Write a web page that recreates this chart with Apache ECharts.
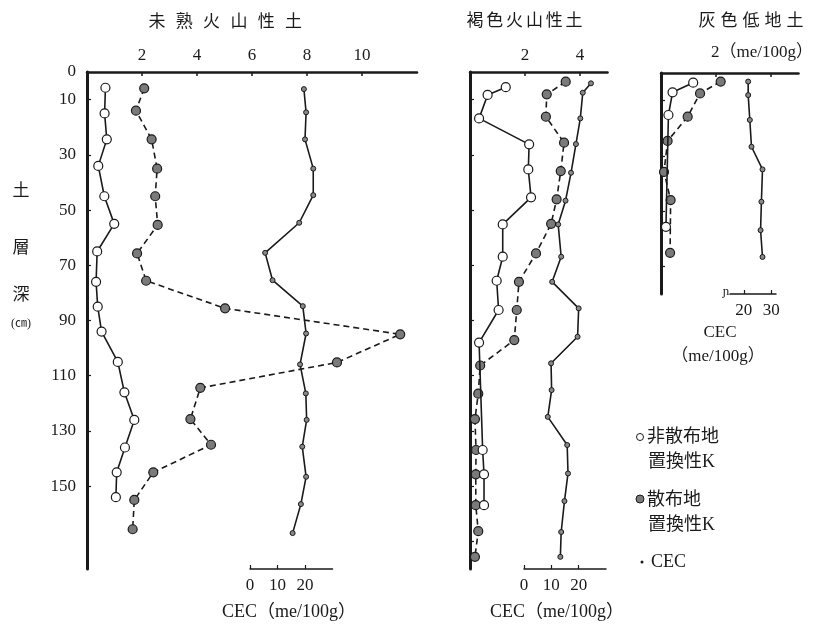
<!DOCTYPE html>
<html>
<head>
<meta charset="utf-8">
<script src="https://cdn.jsdelivr.net/npm/echarts@6/dist/echarts.min.js"></script>
<style>
html, body { margin: 0; padding: 0; background: #fff; }
#main { width: 830px; height: 624px; }
</style>
</head>
<body>
<div id="main"></div>
<script>
// depth (cm) and values
var p1OpenDepth = [5.7, 15, 24.4, 34, 45, 55, 65, 76, 85, 94, 105, 116, 126, 136, 145, 154];
var p1OpenK = [0.67, 0.64, 0.72, 0.41, 0.63, 0.99, 0.37, 0.33, 0.39, 0.53, 1.12, 1.36, 1.72, 1.38, 1.08, 1.05];
var p1DispDepth = [5.9, 14, 24.4, 35, 45, 55.4, 65.7, 75.6, 85.6, 95, 105.2, 114.4, 125.7, 135, 145, 155, 165.6];
var p1DispK = [2.08, 1.78, 2.35, 2.55, 2.48, 2.57, 1.82, 2.15, 5.02, 11.39, 9.09, 4.12, 3.76, 4.51, 2.41, 1.72, 1.66];
var p1CecDepth = [6.2, 14.6, 24.4, 35, 44.6, 54.6, 65.5, 75.4, 84.8, 94.7, 105.9, 116.4, 126, 135.7, 146.6, 156.5, 167];
var p1Cec = [19.6, 20.4, 20.0, 23.0, 23.0, 17.9, 5.5, 8.2, 19.2, 20.4, 18.2, 20.3, 20.6, 19.0, 20.4, 18.5, 15.5];

var p2OpenDepth = [5.5, 8.3, 16.8, 26.2, 35.3, 45.4, 55.2, 66.9, 75.6, 86.2, 98, 136.9, 145.7, 156.9];
var p2OpenK = [1.30, 0.64, 0.33, 2.15, 2.12, 2.22, 1.19, 1.19, 0.97, 1.04, 0.33, 0.46, 0.51, 0.51];
var p2DispDepth = [3.5, 8.1, 16.2, 25.6, 35.9, 46.1, 55, 65.7, 76, 86.2, 97.1, 106.3, 116.5, 125.7, 136.9, 145.7, 156.9, 166.3, 175.6];
var p2DispK = [3.48, 2.79, 2.76, 3.42, 3.30, 3.15, 2.95, 2.40, 1.78, 1.70, 1.61, 0.37, 0.30, 0.18, 0.22, 0.21, 0.21, 0.30, 0.18];
var p2CecDepth = [4.1, 7.5, 16.8, 26.1, 36.5, 46.6, 55.2, 66.9, 76, 85.6, 95.9, 105.5, 115.2, 124.9, 135.1, 145.4, 155.4, 166.6, 175.6];
var p2Cec = [24.5, 21.5, 20.6, 19.0, 17.2, 15.2, 12.5, 13.6, 10.3, 20.0, 19.6, 9.9, 10.1, 8.7, 15.8, 16.1, 14.8, 13.6, 13.3];

var p3OpenDepth = [3.5, 7, 15.2, 55.7];
var p3OpenK = [1.17, 0.42, 0.27, 0.18];
var p3DispDepth = [3.1, 7.4, 15.8, 24.6, 35.8, 46, 65.1];
var p3DispK = [2.17, 1.42, 0.97, 0.24, 0.11, 0.35, 0.33];
var p3CecDepth = [3.1, 8, 17, 26.7, 34.9, 46.6, 56.9, 66.6];
var p3Cec = [21.6, 21.6, 22.2, 22.8, 26.8, 26.4, 26.1, 26.8];

var depthLabels = [0, 10, 30, 50, 70, 90, 110, 130, 150];
var p1KTicks = [2, 4, 6, 8, 10];
var p2KTicks = [2, 4];
var cecTicks = [0, 10, 20];
var p3CecTicks = [20, 30];

var FONT = '"Liberation Serif", "Noto Sans CJK JP", serif';
var INK = '#1a1a1a';

function pairs(vals, depths) {
	return vals.map(function (v, i) { return [v, depths[i]]; });
}

function txt(s, x, y, size, align) {
	return {
		type: 'text', x: x, y: y, silent: true,
		style: { text: s, fontSize: size, fontFamily: FONT, fill: INK, align: align || 'center', verticalAlign: 'middle' }
	};
}

function spaced(s, x0, step, y, size) {
	return s.split('').map(function (c, i) { return txt(c, x0 + i * step, y, size); });
}

function kAxis(grid, max, ticks, showLabel) {
	return {
		type: 'value', gridIndex: grid, position: 'top', min: 0, max: max,
		axisLine: { show: true, onZero: false, lineStyle: { color: INK, width: 2.5 } },
		axisTick: { show: true, inside: true, length: 4, customValues: ticks, lineStyle: { color: INK, width: 1.5 } },
		axisLabel: { show: showLabel, customValues: ticks, margin: 8, fontSize: 17, fontFamily: FONT, color: INK },
		splitLine: { show: false }
	};
}

function cecAxis(grid, min, max, ticks) {
	return {
		type: 'value', gridIndex: grid, position: 'bottom', min: min, max: max,
		axisLine: { show: true, onZero: false, lineStyle: { color: INK, width: 1.5 } },
		axisTick: { show: true, inside: true, length: 4, customValues: ticks, lineStyle: { color: INK, width: 1.2 } },
		axisLabel: { customValues: ticks, margin: 8, fontSize: 17, fontFamily: FONT, color: INK },
		splitLine: { show: false }
	};
}

function depthAxis(grid, max, show, labels, ticks) {
	return {
		type: 'value', gridIndex: grid, inverse: true, min: 0, max: max, show: show,
		axisLine: { show: true, onZero: false, lineStyle: { color: INK, width: 3 } },
		axisTick: { show: true, inside: true, length: 4, customValues: ticks, lineStyle: { color: INK, width: 1.2 } },
		axisLabel: { show: !!labels, customValues: labels || [], margin: 11, fontSize: 17, fontFamily: FONT, color: INK },
		splitLine: { show: false }
	};
}

function openSeries(x, y, vals, depths) {
	return {
		type: 'line', xAxisIndex: x, yAxisIndex: y, data: pairs(vals, depths),
		symbol: 'circle', symbolSize: 9, z: 4,
		itemStyle: { color: '#fff', borderColor: INK, borderWidth: 1.2 },
		lineStyle: { color: INK, width: 1.6 }
	};
}

function dispSeries(x, y, vals, depths) {
	return {
		type: 'line', xAxisIndex: x, yAxisIndex: y, data: pairs(vals, depths),
		symbol: 'circle', symbolSize: 9, z: 3,
		itemStyle: { color: '#7a7a7a', borderColor: INK, borderWidth: 1.2 },
		lineStyle: { color: INK, width: 1.6, type: [6, 4] }
	};
}

function cecSeries(x, y, vals, depths) {
	return {
		type: 'line', xAxisIndex: x, yAxisIndex: y, data: pairs(vals, depths),
		symbol: 'circle', symbolSize: 5, z: 3,
		itemStyle: { color: '#888', borderColor: INK, borderWidth: 1 },
		lineStyle: { color: INK, width: 1.6 }
	};
}

var chart = echarts.init(document.getElementById('main'), null, { renderer: 'canvas' });

var graphics = []
	.concat(spaced('未熟火山性土', 157, 27.3, 23, 17))
	.concat(spaced('褐色火山性土', 475, 19.8, 22, 17))
	.concat(spaced('灰色低地土', 707, 22, 22, 17))
	.concat([
		txt('土', 21, 192, 17), txt('層', 21, 249, 17), txt('深', 21, 296, 17), txt('(㎝)', 21, 324, 12),
		txt('CEC（me/100g）', 289, 612, 18), txt('CEC（me/100g）', 557, 612, 18),
		txt('2（me/100g）', 711, 53, 17, 'left'),
		txt('CEC', 720, 333, 17), txt('（me/100g）', 718, 357, 17),
		txt('ɲ', 726, 292, 13),
		{ type: 'circle', shape: { cx: 640, cy: 437, r: 3.5 }, style: { fill: '#fff', stroke: INK, lineWidth: 1 } },
		txt('非散布地', 647, 437, 18, 'left'), txt('置換性K', 648, 462, 18, 'left'),
		{ type: 'circle', shape: { cx: 640, cy: 499, r: 4 }, style: { fill: '#7a7a7a', stroke: INK, lineWidth: 1 } },
		txt('散布地', 647, 500, 18, 'left'), txt('置換性K', 648, 525, 18, 'left'),
		{ type: 'circle', shape: { cx: 642, cy: 562, r: 1.5 }, style: { fill: INK } },
		txt('CEC', 651, 562, 18, 'left')
	]);

chart.setOption({
	animation: false,
	backgroundColor: '#fff',
	grid: [
		{ left: 87, top: 72, width: 330, height: 497 },
		{ left: 250, top: 72, width: 82.5, height: 497 },
		{ left: 470, top: 72, width: 137.5, height: 497 },
		{ left: 524, top: 72, width: 82, height: 497 },
		{ left: 661, top: 73, width: 137.5, height: 221 },
		{ left: 730, top: 73, width: 46, height: 221 }
	],
	xAxis: [
		kAxis(0, 12, p1KTicks, true),
		cecAxis(1, 0, 30, cecTicks),
		kAxis(2, 5, p2KTicks, true),
		cecAxis(3, 0, 30, cecTicks),
		kAxis(4, 5, p2KTicks, false),
		cecAxis(5, 15, 31.7, p3CecTicks)
	],
	yAxis: [
		depthAxis(0, 180, true, depthLabels, [10, 30, 50, 70, 90, 110, 130, 150]),
		depthAxis(1, 180, false),
		depthAxis(2, 180, true, null, [10, 30, 50, 70, 90, 110, 130, 150, 170]),
		depthAxis(3, 180, false),
		depthAxis(4, 80, true, null, [10, 30, 50, 70]),
		depthAxis(5, 80, false)
	],
	series: [
		cecSeries(1, 1, p1Cec, p1CecDepth),
		dispSeries(0, 0, p1DispK, p1DispDepth),
		openSeries(0, 0, p1OpenK, p1OpenDepth),
		cecSeries(3, 3, p2Cec, p2CecDepth),
		dispSeries(2, 2, p2DispK, p2DispDepth),
		openSeries(2, 2, p2OpenK, p2OpenDepth),
		cecSeries(5, 5, p3Cec, p3CecDepth),
		dispSeries(4, 4, p3DispK, p3DispDepth),
		openSeries(4, 4, p3OpenK, p3OpenDepth)
	],
	graphic: graphics
});
</script>
</body>
</html>
